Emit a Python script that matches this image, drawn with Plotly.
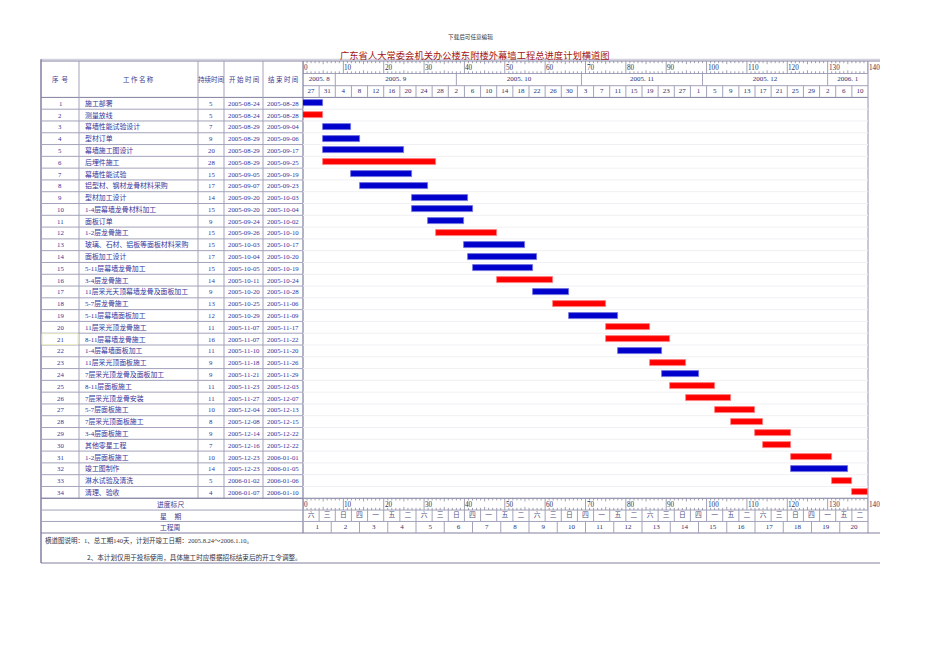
import plotly.graph_objects as go
from datetime import date

# ---------------- data ----------------
ids = list(range(1, 35))
tasks = [
    "施工部署", "测量放线", "幕墙性能试验设计", "型材订单", "幕墙施工图设计",
    "后埋件施工", "幕墙性能试验", "铝型材、钢材龙骨材料采购", "型材加工设计",
    "1-4层幕墙龙骨材料加工", "面板订单", "1-2层龙骨施工", "玻璃、石材、铝板等面板材料采购",
    "面板加工设计", "5-11层幕墙龙骨加工", "3-4层龙骨施工", "11层采光天顶幕墙龙骨及面板加工",
    "5-7层龙骨施工", "5-11层幕墙面板加工", "11层采光顶龙骨施工", "8-11层幕墙龙骨施工",
    "1-4层幕墙面板加工", "11层采光顶面板施工", "7层采光顶龙骨及面板加工", "8-11层面板施工",
    "7层采光顶龙骨安装", "5-7层面板施工", "7层采光顶面板施工", "3-4层面板施工",
    "其他零星工程", "1-2层面板施工", "竣工图制作", "淋水试验及清洗", "清理、验收",
]
durations = [5, 5, 7, 9, 20, 28, 15, 17, 14, 15, 9, 15, 15, 17, 15, 14, 9, 13, 12, 11,
             16, 11, 9, 9, 11, 11, 10, 8, 9, 7, 10, 14, 5, 4]
start_dates = [
    "2005-08-24", "2005-08-24", "2005-08-29", "2005-08-29", "2005-08-29", "2005-08-29",
    "2005-09-05", "2005-09-07", "2005-09-20", "2005-09-20", "2005-09-24", "2005-09-26",
    "2005-10-03", "2005-10-04", "2005-10-05", "2005-10-11", "2005-10-20", "2005-10-25",
    "2005-10-29", "2005-11-07", "2005-11-07", "2005-11-10", "2005-11-18", "2005-11-21",
    "2005-11-23", "2005-11-27", "2005-12-04", "2005-12-08", "2005-12-14", "2005-12-16",
    "2005-12-23", "2005-12-23", "2006-01-02", "2006-01-07",
]
end_dates = [
    "2005-08-28", "2005-08-28", "2005-09-04", "2005-09-06", "2005-09-17", "2005-09-25",
    "2005-09-19", "2005-09-23", "2005-10-03", "2005-10-04", "2005-10-02", "2005-10-10",
    "2005-10-17", "2005-10-20", "2005-10-19", "2005-10-24", "2005-10-28", "2005-11-06",
    "2005-11-09", "2005-11-17", "2005-11-22", "2005-11-20", "2005-11-26", "2005-11-29",
    "2005-12-03", "2005-12-07", "2005-12-13", "2005-12-15", "2005-12-22", "2005-12-22",
    "2006-01-01", "2006-01-05", "2006-01-06", "2006-01-10",
]
critical = [0, 1, 0, 0, 0, 1, 0, 0, 0, 0, 0, 1, 0, 0, 0, 1, 0, 1, 0, 1,
            1, 0, 1, 0, 1, 1, 1, 1, 1, 1, 1, 0, 1, 1]

project_start = "2005-08-24"
total_days = 140
month_labels = ["2005. 8", "2005. 9", "2005. 10", "2005. 11", "2005. 12", "2006. 1"]
month_starts = ["2005-08-24", "2005-09-01", "2005-10-01", "2005-11-01", "2005-12-01", "2006-01-01"]
date_labels = ["27", "31", "4", "8", "12", "16", "20", "24", "28", "2", "6", "10", "14", "18",
               "22", "26", "30", "3", "7", "11", "15", "19", "23", "27", "1", "5", "9", "13",
               "17", "21", "25", "29", "2", "6", "10"]
weekday_labels = ["六", "三", "日", "四", "一", "五", "二", "六", "三", "日", "四", "一", "五", "二",
                  "六", "三", "日", "四", "一", "五", "二", "六", "三", "日", "四", "一", "五", "二",
                  "六", "三", "日", "四", "一", "五", "二"]
week_labels = ["1", "2", "3", "4", "5", "6", "7", "8", "9", "10", "11", "12", "13", "14",
               "15", "16", "17", "18", "19", "20"]
ruler_labels = [0, 10, 20, 30, 40, 50, 60, 70, 80, 90, 100, 110, 120, 130, 140]
header_labels = ["序  号", "工 作 名 称", "持续时间", "开 始 时 间", "结 束 时 间"]
bottom_labels = ["进度标尺", "星     期", "工程周"]
title_text = "广东省人大常委会机关办公楼东附楼外幕墙工程总进度计划横道图"
top_note = "下载后可任意编辑"
note_line1 = "横道图说明：1、总工期140天，计划开竣工日期：2005.8.24～2006.1.10。"
note_line2 = "2、本计划仅用于投标使用，具体施工时应根据招标结束后的开工令调整。"

# ---------------- layout constants (screen pixels) ----------------
OFF = 8                      # page body margin around the plot div
W, H = 942, 664              # figure size
CX0, CX1 = 303, 868          # chart area (screen px)
FL, FR = 41, 880             # frame
COLS = [41, 79, 198, 224, 263, 303]
TOP = 61.0
R_RULER = 73.5
R_MONTH = 85.7
HDR_B = 97.4
ROWH = 11.79
N = len(tasks)
BODY_B = HDR_B + N * ROWH
B1 = BODY_B + 11.8
B2 = B1 + 11.4
B3 = 533.0
NOTE_B = 563.0

SERIF = "Liberation Serif, Noto Sans CJK SC"
CJK = "Noto Sans CJK SC"
TXT = "#34349a"
HDR_TXT = "#3c3c90"
GRID = "#a3a3bb"
DARK = "#8080a0"

def d(s):
    y, m, dd = map(int, s.split("-"))
    return date(y, m, dd)

p0 = d(project_start)
offsets = [(d(s) - p0).days for s in start_dates]
month_b = [(d(s) - p0).days for s in month_starts] + [total_days]

def px(x):
    return (x - OFF) / W

fig = go.Figure()
shapes = []
ann = []

def hline(y, x0, x1, color=GRID, w=1):
    shapes.append(dict(type="line", xref="paper", yref="y", x0=px(x0), x1=px(x1),
                       y0=y, y1=y, line=dict(color=color, width=w), layer="below"))

def vline(x, y0, y1, color=GRID, w=1):
    shapes.append(dict(type="line", xref="paper", yref="y", x0=px(x), x1=px(x),
                       y0=y0, y1=y1, line=dict(color=color, width=w), layer="below"))

def text(x, y, s, size=6.8, color=TXT, anchor="center", family=SERIF):
    ann.append(dict(xref="paper", yref="y", x=px(x), y=y, text=s, showarrow=False,
                    xanchor=anchor, yanchor="middle",
                    font=dict(family=family, size=size, color=color)))

# ---- frame lines ----
hline(59.3, FL, FR, "#c8c8d8", 1)
hline(TOP, FL, FR, DARK, 1.2)
hline(R_RULER, CX0, CX1, GRID)
hline(R_MONTH, CX0, CX1, GRID)
hline(HDR_B, FL, CX1, DARK, 1)
vline(FL, 59.3, NOTE_B, DARK, 1.5)
for x in COLS[1:5]:
    vline(x, TOP, BODY_B, GRID)
vline(CX0, TOP, B3, DARK, 1.2)
vline(CX1, TOP, B3, GRID, 1.2)

# body row lines
for i in range(1, N + 1):
    y = HDR_B + i * ROWH
    hline(y, FL, CX0, GRID, 1)
    hline(y, CX0, CX1, "#f0f0f4", 1)
hline(BODY_B, FL, CX1, DARK, 1)
hline(B1, FL, CX1, GRID)
hline(B2, FL, CX1, GRID)
hline(B3, FL, FR, DARK, 1)
hline(NOTE_B, FL, FR, DARK, 1)

# selected cell highlight (row 21)
shapes.append(dict(type="rect", xref="paper", yref="y", x0=px(COLS[0] + 1), x1=px(COLS[1] - 1),
                   y0=HDR_B + 20 * ROWH + 0.5, y1=HDR_B + 21 * ROWH - 0.5,
                   line=dict(color="#ececc0", width=1), fillcolor="rgba(0,0,0,0)", layer="below"))

# ---- header texts ----
hdr_y = (TOP + HDR_B) / 2
for j, lab in enumerate(header_labels):
    text((COLS[j] + COLS[j + 1]) / 2, hdr_y, lab, size=6.5, color=HDR_TXT, family=CJK)

# ---- rows ----
for i in range(N):
    yc = HDR_B + (i + 0.5) * ROWH
    text((COLS[0] + COLS[1]) / 2, yc, str(ids[i]), size=6.8)
    text(COLS[1] + 4, yc, tasks[i], size=6.9, anchor="left")
    text((COLS[2] + COLS[3]) / 2, yc, str(durations[i]), size=6.8)
    text((COLS[3] + COLS[4]) / 2, yc, start_dates[i], size=6.8)
    text((COLS[4] + COLS[5]) / 2, yc, end_dates[i], size=6.8)

# ---- bottom labels ----
for lab, (y0, y1) in zip(bottom_labels, [(BODY_B, B1), (B1, B2), (B2, B3)]):
    text(170, (y0 + y1) / 2, lab, size=6.8, color=HDR_TXT, family=CJK)

# ---- notes & titles ----
text(43, 540, note_line1, size=6.5, color="#333344", anchor="left")
text(85, 556.5, note_line2, size=6.6, color="#333344", anchor="left", family=CJK)
text(475, 55, title_text, size=9.3, color="#a31515", family=CJK)
text(470, 36.5, top_note, size=5.6, color="#333333", family=CJK)

# ---- ruler labels (annotations on the day axis, so 140 is not dropped) ----
for (ya, yb) in [(TOP, R_RULER), (BODY_B, B1)]:
    for v in ruler_labels:
        ann.append(dict(xref="x", yref="y", x=v, y=(ya + yb) / 2 + 0.5, text=str(v),
                        showarrow=False, xanchor="left", yanchor="middle", xshift=-1,
                        font=dict(family=SERIF, size=7.2, color="#333355")))

# ---- chart-area grid via scatter (x in days, y in px) ----
gx, gy = [], []
def seg(x0, y0, x1, y1):
    gx.extend([x0, x1, None]); gy.extend([y0, y1, None])

for b in month_b[1:-1]:
    seg(b, R_RULER, b, R_MONTH)
for k in range(1, len(date_labels)):
    seg(4 * k, R_MONTH, 4 * k, HDR_B)
for k in range(1, len(weekday_labels)):
    seg(4 * k, B1, 4 * k, B2)
for k in range(1, len(week_labels)):
    seg(7 * k, B2, 7 * k, B3)
fig.add_trace(go.Scatter(x=gx, y=gy, mode="lines", line=dict(color=GRID, width=1),
                         hoverinfo="skip", showlegend=False))

# rulers
rx, ry = [], []
for (ya, yb) in [(TOP, R_RULER), (BODY_B, B1)]:
    for dd in range(0, total_days + 1):
        if dd % 10 == 0:
            rx.extend([dd, dd, None]); ry.extend([ya, yb, None])
        else:
            L = 3.2 if dd % 5 == 0 else 2.2
            rx.extend([dd, dd, None]); ry.extend([ya, ya + L, None])
            rx.extend([dd, dd, None]); ry.extend([yb - L, yb, None])
fig.add_trace(go.Scatter(x=rx, y=ry, mode="lines", line=dict(color="#8a8aa0", width=0.8),
                         hoverinfo="skip", showlegend=False))

# month labels
fig.add_trace(go.Scatter(
    x=[(month_b[k] + month_b[k + 1]) / 2 for k in range(len(month_labels))],
    y=[(R_RULER + R_MONTH) / 2] * len(month_labels), text=month_labels, mode="text",
    textfont=dict(family=SERIF, size=7, color="#303070"), cliponaxis=False,
    hoverinfo="skip", showlegend=False))
# date labels
fig.add_trace(go.Scatter(
    x=[4 * k + 2 for k in range(len(date_labels))], y=[(R_MONTH + HDR_B) / 2] * len(date_labels),
    text=date_labels, mode="text", textfont=dict(family=SERIF, size=7, color="#303070"),
    cliponaxis=False, hoverinfo="skip", showlegend=False))
# weekday labels
fig.add_trace(go.Scatter(
    x=[4 * k + 2 for k in range(len(weekday_labels))], y=[(B1 + B2) / 2] * len(weekday_labels),
    text=weekday_labels, mode="text", textfont=dict(family=CJK, size=6.8, color="#505080"),
    cliponaxis=False, hoverinfo="skip", showlegend=False))
# project weeks
fig.add_trace(go.Scatter(
    x=[7 * k + 3.5 for k in range(len(week_labels))], y=[(B2 + B3) / 2] * len(week_labels),
    text=week_labels, mode="text", textfont=dict(family=SERIF, size=7, color="#303070"),
    cliponaxis=False, hoverinfo="skip", showlegend=False))

# ---- bars ----
row_y = [HDR_B + (i + 0.5) * ROWH for i in range(N)]
fill = ["#ff0000" if c else "#0000cc" for c in critical]
edge = ["#ff8080" if c else "#7070e0" for c in critical]
fig.add_trace(go.Bar(y=row_y, x=durations, base=offsets, orientation="h", width=6,
                     marker=dict(color=fill, line=dict(color=edge, width=0.8)),
                     hoverinfo="skip", showlegend=False))

fig.update_layout(
    width=W, height=H, margin=dict(l=0, r=0, t=0, b=0),
    paper_bgcolor="white", plot_bgcolor="rgba(0,0,0,0)",
    xaxis=dict(domain=[px(CX0), px(CX1)], range=[0, total_days], visible=False,
               showgrid=False, zeroline=False, fixedrange=True),
    yaxis=dict(domain=[0, 1], range=[H + OFF, OFF], visible=False, showgrid=False,
               zeroline=False, fixedrange=True),
    shapes=shapes, annotations=ann, showlegend=False, bargap=0,
)

fig.write_html("out.html")
